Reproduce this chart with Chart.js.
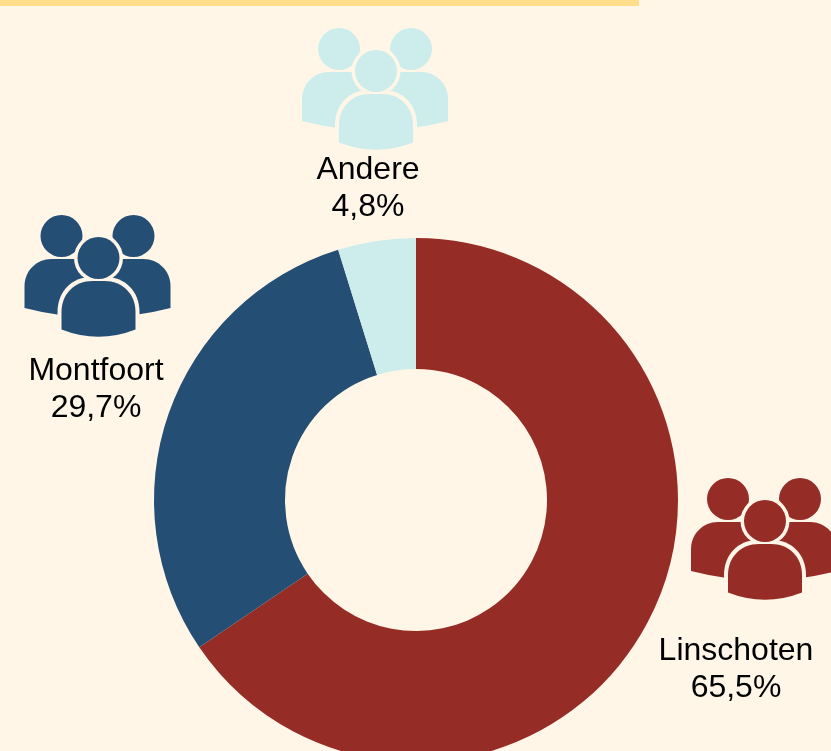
<!DOCTYPE html>
<html>
<head>
<meta charset="utf-8">
<script src="https://cdn.jsdelivr.net/npm/chart.js@4"></script>
<style>
  html, body { margin: 0; padding: 0; background: #FFF6E8; overflow: hidden; }
  #wrap { position: relative; width: 831px; height: 751px; overflow: hidden; }
  #stripe { position: absolute; left: 0; top: 0; width: 639px; height: 6px; background: #FFDD8A; }
  #holder { position: absolute; left: 0; top: 0; width: 832px; height: 762px; }
</style>
</head>
<body>
<div id="wrap">
  <div id="stripe"></div>
  <div id="holder"><canvas id="chart"></canvas></div>
</div>
<script>
// data
const categories = ['Linschoten', 'Montfoort', 'Andere'];
const values = [65.5, 29.7, 4.8];
const colors = ['#962C26', '#254E75', '#CDECEC'];

// where the icon + label of each category sits
const iconSpots = [[691, 478], [24.5, 215], [302, 28]];
const labelSpots = [[736, 660], [96, 380], [368, 179]];

const background = '#FFF6E8';

// three people icon, 146 wide and 122 high
function drawPeople(ctx, x, y, color) {
    ctx.save();
    ctx.translate(x, y);

    // the two at the back
    ctx.fillStyle = color;
    ctx.beginPath();
    ctx.arc(37, 21, 21, 0, 2 * Math.PI);
    ctx.moveTo(130, 21);
    ctx.arc(109, 21, 21, 0, 2 * Math.PI);
    ctx.fill();
    ctx.beginPath();
    ctx.moveTo(0, 93);
    ctx.lineTo(0, 71);
    ctx.bezierCurveTo(0, 56, 12, 44, 27, 44);
    ctx.lineTo(119, 44);
    ctx.bezierCurveTo(134, 44, 146, 56, 146, 71);
    ctx.lineTo(146, 93);
    ctx.quadraticCurveTo(73, 112, 0, 93);
    ctx.fill();

    // gap around the front one
    ctx.fillStyle = background;
    ctx.beginPath();
    ctx.arc(74, 43, 24.5, 0, 2 * Math.PI);
    ctx.fill();
    ctx.beginPath();
    ctx.moveTo(33, 125);
    ctx.lineTo(33, 97);
    ctx.bezierCurveTo(33, 76, 48, 62, 66, 62);
    ctx.lineTo(82, 62);
    ctx.bezierCurveTo(100, 62, 115, 76, 115, 97);
    ctx.lineTo(115, 125);
    ctx.closePath();
    ctx.fill();

    // the front one
    ctx.fillStyle = color;
    ctx.beginPath();
    ctx.arc(74, 43, 21, 0, 2 * Math.PI);
    ctx.fill();
    ctx.beginPath();
    ctx.moveTo(37, 114.5);
    ctx.lineTo(37, 97);
    ctx.bezierCurveTo(37, 79, 50, 66, 68, 66);
    ctx.lineTo(80, 66);
    ctx.bezierCurveTo(98, 66, 111, 79, 111, 97);
    ctx.lineTo(111, 114.5);
    ctx.quadraticCurveTo(74, 129, 37, 114.5);
    ctx.fill();

    ctx.restore();
}

// icons and labels next to the ring
const peopleLabels = {
    id: 'peopleLabels',
    afterDraw(chart) {
        const ctx = chart.ctx;
        categories.forEach((name, i) => {
            drawPeople(ctx, iconSpots[i][0], iconSpots[i][1], colors[i]);
            ctx.save();
            ctx.fillStyle = '#000';
            ctx.font = '32px "Liberation Sans", Arial, sans-serif';
            ctx.textAlign = 'center';
            ctx.textBaseline = 'alphabetic';
            ctx.fillText(name, labelSpots[i][0], labelSpots[i][1]);
            ctx.fillText(values[i].toFixed(1).replace('.', ',') + '%', labelSpots[i][0], labelSpots[i][1] + 37);
            ctx.restore();
        });
    }
};

new Chart(document.getElementById('chart'), {
    type: 'doughnut',
    data: {
        labels: categories,
        datasets: [{
            data: values,
            backgroundColor: colors,
            borderWidth: 0
        }]
    },
    options: {
        responsive: true,
        maintainAspectRatio: false,
        animation: false,
        cutout: '50%',
        layout: { padding: { top: 238 } },
        plugins: {
            legend: { display: false },
            tooltip: { enabled: false }
        }
    },
    plugins: [peopleLabels]
});
</script>
</body>
</html>
